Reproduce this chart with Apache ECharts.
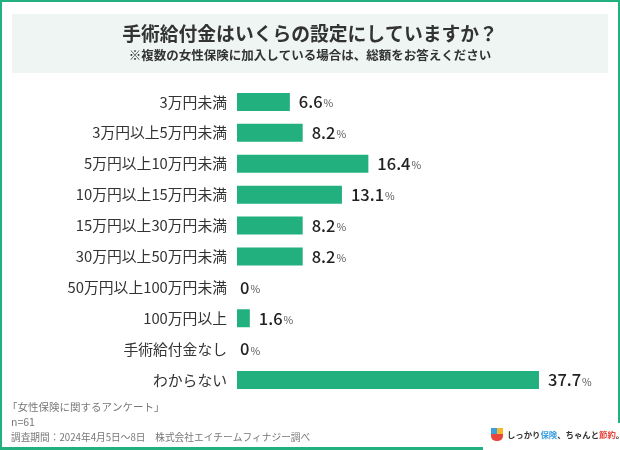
<!DOCTYPE html>
<html><head><meta charset="utf-8">
<script src="https://cdn.jsdelivr.net/npm/echarts@6/dist/echarts.min.js"></script>
<style>html,body{margin:0;padding:0;background:#fff}#c{width:620px;height:450px}</style>
</head><body><div id="c"></div>
<script>
const categories = ['3万円未満','3万円以上5万円未満','5万円以上10万円未満','10万円以上15万円未満','15万円以上30万円未満','30万円以上50万円未満','50万円以上100万円未満','100万円以上','手術給付金なし','わからない'];
const values = [6.6, 8.2, 16.4, 13.1, 8.2, 8.2, 0, 1.6, 0, 37.7];
const titleText = '手術給付金はいくらの設定にしていますか？';
const subtitleText = '※複数の女性保険に加入している場合は、総額をお答えください';
const footerLines = ['「女性保険に関するアンケート」', 'n=61', '調査期間：2024年4月5日～8日　株式会社エイチームフィナジー調べ'];

const GREEN = '#22b07f';
const FONT = '"Noto Sans CJK JP", "Noto Sans", sans-serif';
const chart = echarts.init(document.getElementById('c'), null, {renderer: 'canvas'});

const data = values.map(v => ({
  value: v,
  label: {distance: v === 0 ? 3 : 9}
}));

chart.setOption({
  animation: false,
  textStyle: {fontFamily: FONT},
  grid: {left: 237, top: 86.5, width: 320.4, height: 309, containLabel: false},
  xAxis: {type: 'value', min: 0, max: 40, show: false},
  yAxis: {
    type: 'category', data: categories, inverse: true,
    axisLine: {show: false}, axisTick: {show: false},
    axisLabel: {color: '#333', fontSize: 14.8, margin: 10, fontFamily: FONT}
  },
  series: [{
    type: 'bar', data: data, barWidth: 18,
    itemStyle: {color: GREEN},
    label: {
      show: true, position: 'right',
      formatter: p => '{v|' + p.value + '}{p|%}',
      rich: {
        v: {fontSize: 16.5, fontWeight: 500, color: '#222', fontFamily: FONT},
        p: {fontSize: 10.5, color: '#555', fontFamily: FONT, padding: [3, 0, 0, 1]}
      }
    }
  }],
  graphic: [
    {type: 'rect', shape: {x: 12, y: 14, width: 596, height: 59}, style: {fill: '#eef5f2'}, z: -10},
    {type: 'text', x: 310, y: 34, style: {text: titleText, font: 'bold 18.8px ' + FONT, fill: '#333', textAlign: 'center', textVerticalAlign: 'middle'}},
    {type: 'text', x: 310, y: 55, style: {text: subtitleText, font: 'bold 12.5px ' + FONT, fill: '#333', textAlign: 'center', textVerticalAlign: 'middle'}},
    {type: 'text', x: 7, y: 407, style: {text: footerLines[0], font: '10.5px ' + FONT, fill: '#777', textVerticalAlign: 'middle'}},
    {type: 'text', x: 11, y: 422, style: {text: footerLines[1], font: '10.5px ' + FONT, fill: '#777', textVerticalAlign: 'middle'}},
    {type: 'text', x: 11, y: 437, style: {text: footerLines[2], font: '9.7px ' + FONT, fill: '#777', textVerticalAlign: 'middle'}},
    // border
    {type: 'rect', shape: {x: 0, y: 0, width: 620, height: 2}, style: {fill: GREEN}},
    {type: 'rect', shape: {x: 0, y: 0, width: 2, height: 450}, style: {fill: GREEN}},
    {type: 'rect', shape: {x: 618, y: 0, width: 2, height: 423}, style: {fill: GREEN}},
    {type: 'rect', shape: {x: 0, y: 447, width: 483, height: 3}, style: {fill: GREEN}},
    // logo icon
    {type: 'rect', shape: {x: 491, y: 428, width: 6, height: 6}, style: {fill: '#3a9ee0'}},
    {type: 'rect', shape: {x: 497, y: 428, width: 6, height: 6}, style: {fill: '#f5b82e'}},
    {type: 'rect', shape: {x: 491, y: 434, width: 12, height: 7, r: [0, 0, 5, 5]}, style: {fill: '#e8453c'}},
    {type: 'text', x: 507, y: 435, style: {
      text: '{a|しっかり}{b|保険}{a|、ちゃんと}{c|節約}{a|。}',
      textVerticalAlign: 'middle',
      rich: {
        a: {font: 'bold 8.4px ' + FONT, fill: '#333'},
        b: {font: 'bold 8.4px ' + FONT, fill: '#3a9ee0'},
        c: {font: 'bold 8.4px ' + FONT, fill: '#e8453c'}
      }
    }}
  ]
});
</script></body></html>
